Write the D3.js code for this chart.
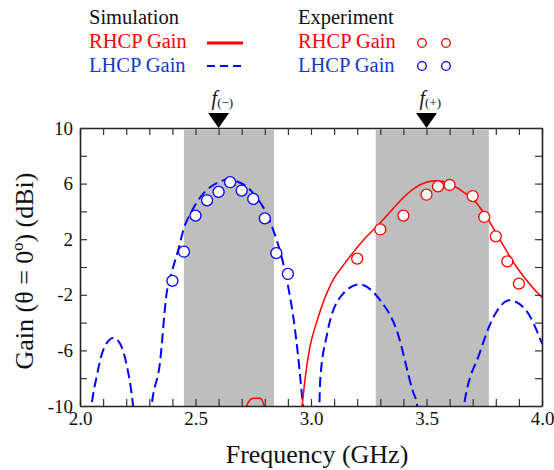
<!DOCTYPE html>
<html lang="en">
<head>
<meta charset="UTF-8">
<script src="https://d3js.org/d3.v7.min.js"></script>
<style>
  body { margin: 0; background: #fff; }
  svg, svg text, svg tspan { font-family: 'Liberation Serif', 'Times New Roman', serif !important; }
</style>
</head>
<body>
<div id="chart"></div>
<script>
const width = 554;
const height = 470;
const margin = { left: 80, right: 12, top: 128, bottom: 64 };

// shaded bands (GHz)
const bands = [[2.45, 2.84], [3.28, 3.77]];
// marker frequencies
const markers = [{ f: 2.6, sub: "(\u2212)" }, { f: 3.5, sub: "(+)" }];

// experiment
const lhcpExpFreq = [2.40, 2.45, 2.50, 2.55, 2.60, 2.65, 2.70, 2.75, 2.80, 2.85, 2.90];
const lhcpExpGain = [-1.0, 1.1, 3.7, 4.8, 5.4, 6.1, 5.5, 4.9, 3.5, 1.0, -0.5];
const rhcpExpFreq = [3.20, 3.30, 3.40, 3.50, 3.55, 3.60, 3.70, 3.75, 3.80, 3.85, 3.90];
const rhcpExpGain = [0.6, 2.7, 3.7, 5.2, 5.8, 5.9, 5.1, 3.6, 2.2, 0.4, -1.2];

// simulation, one array per lobe: [freq, gain]
const lhcpSim = [
  [[2.045, -10.8], [2.05, -10], [2.072, -7.9], [2.10, -6.0], [2.144, -5.1], [2.173, -5.5], [2.20, -6.9], [2.23, -10], [2.235, -10.8]],
  [[2.305, -10.8], [2.31, -10], [2.346, -6.9], [2.375, -1.9], [2.40, -0.2], [2.425, 1.2], [2.45, 2.8], [2.48, 3.9],
   [2.52, 5.0], [2.56, 5.7], [2.60, 6.1], [2.64, 6.3], [2.68, 6.15], [2.72, 5.8], [2.76, 5.1], [2.80, 4.1],
   [2.84, 2.5], [2.87, 0.9], [2.90, -1.3], [2.93, -4.4], [2.955, -8.2], [2.965, -10], [2.97, -10.8]],
  [[3.03, -10.8], [3.036, -10], [3.04, -8.1], [3.07, -4.8], [3.13, -2.1], [3.21, -1.25], [3.30, -2.4], [3.37, -4.5], [3.44, -8.9], [3.46, -10], [3.465, -10.8]],
  [[3.655, -10.8], [3.662, -10], [3.73, -6.2], [3.79, -3.6], [3.86, -2.4], [3.93, -3.1], [4.0, -5.5]]
];
const rhcpSim = [
  [[2.715, -10.8], [2.721, -10], [2.75, -9.45], [2.779, -9.45], [2.797, -10], [2.803, -10.8]],
  [[2.958, -10.8], [2.962, -10], [2.974, -8.1], [2.996, -5.7], [3.024, -4.0], [3.068, -1.9], [3.10, -0.8],
   [3.13, -0.1], [3.18, 1.0], [3.23, 2.0], [3.29, 3.0], [3.35, 4.1], [3.40, 5.0], [3.45, 5.7], [3.50, 6.1],
   [3.545, 6.2], [3.60, 6.0], [3.65, 5.5], [3.70, 4.9], [3.76, 3.6], [3.82, 1.9], [3.89, 0.0], [3.95, -1.3], [4.0, -2.2]]
];

const red = "#ff0000";
const blue = "#0000ff";
const blueText = "#1238d0";

const svg = d3.select("#chart").append("svg")
  .attr("width", width).attr("height", height);

const x = d3.scaleLinear().domain([2.0, 4.0]).range([margin.left, width - margin.right]);
const y = d3.scaleLinear().domain([-10, 10]).range([height - margin.bottom, margin.top]);

svg.append("clipPath").attr("id", "clip")
  .append("rect")
  .attr("x", x(2.0)).attr("y", y(10))
  .attr("width", x(4.0) - x(2.0)).attr("height", y(-10) - y(10));

// bands
svg.selectAll("rect.band").data(bands).enter().append("rect")
  .attr("class", "band")
  .attr("x", d => x(d[0]))
  .attr("width", d => x(d[1]) - x(d[0]))
  .attr("y", y(10) + 2)
  .attr("height", y(-10) - y(10) - 2)
  .attr("fill", "#bebebe");

const plot = svg.append("g").attr("clip-path", "url(#clip)");

const line = d3.line()
  .x(d => x(d[0]))
  .y(d => y(d[1]))
  .curve(d3.curveMonotoneX);

plot.selectAll("path.lhcp").data(lhcpSim).enter().append("path")
  .attr("class", "lhcp")
  .attr("d", line)
  .attr("fill", "none")
  .attr("stroke", blue)
  .attr("stroke-width", 2)
  .attr("stroke-dasharray", "10,5");

plot.selectAll("path.rhcp").data(rhcpSim).enter().append("path")
  .attr("class", "rhcp")
  .attr("d", line)
  .attr("fill", "none")
  .attr("stroke", red)
  .attr("stroke-width", 1.5);

plot.selectAll("circle.lexp").data(lhcpExpFreq).enter().append("circle")
  .attr("class", "lexp")
  .attr("cx", d => x(d))
  .attr("cy", (d, i) => y(lhcpExpGain[i]))
  .attr("r", 5.5)
  .attr("fill", "#fff")
  .attr("stroke", blue)
  .attr("stroke-width", 1.3);

plot.selectAll("circle.rexp").data(rhcpExpFreq).enter().append("circle")
  .attr("class", "rexp")
  .attr("cx", d => x(d))
  .attr("cy", (d, i) => y(rhcpExpGain[i]))
  .attr("r", 5.5)
  .attr("fill", "#fff")
  .attr("stroke", red)
  .attr("stroke-width", 1.3);

// axes
const xTicks = d3.range(20, 41).map(d => d / 10);
const yTicks = d3.range(-10, 11, 2);
const xFmt = d => (Math.round(d * 10) % 5 === 0 ? d.toFixed(1) : "");
const yFmt = d => ((d + 10) % 4 === 0 ? d : "");

function styleAxis(g) {
  g.attr("font-size", 19);
  g.select(".domain").attr("stroke", "#222").attr("stroke-width", 1.6);
  g.selectAll(".tick line").attr("stroke", "#333").attr("stroke-width", 1.2);
  g.selectAll(".tick text").attr("fill", "#111");
}

svg.append("g").attr("transform", `translate(0,${y(-10)})`)
  .call(d3.axisBottom(x).tickValues(xTicks).tickFormat(xFmt).tickSizeInner(-7).tickSizeOuter(0).tickPadding(6))
  .call(styleAxis);
svg.append("g").attr("transform", `translate(0,${y(10)})`)
  .call(d3.axisTop(x).tickValues(xTicks).tickFormat("").tickSizeInner(-7).tickSizeOuter(0))
  .call(styleAxis);
svg.append("g").attr("transform", `translate(${x(2.0)},0)`)
  .call(d3.axisLeft(y).tickValues(yTicks).tickFormat(yFmt).tickSizeInner(-7).tickSizeOuter(0).tickPadding(7))
  .call(styleAxis);
svg.append("g").attr("transform", `translate(${x(4.0)},0)`)
  .call(d3.axisRight(y).tickValues(yTicks).tickFormat("").tickSizeInner(-7).tickSizeOuter(0))
  .call(styleAxis);

// axis titles
svg.append("text")
  .attr("x", (x(2.0) + x(4.0)) / 2 + 6)
  .attr("y", 463)
  .attr("text-anchor", "middle")
  .attr("font-size", 26)
  .attr("fill", "#111")
  .text("Frequency (GHz)");

svg.append("text")
  .attr("transform", `translate(33,271) rotate(-90)`)
  .attr("text-anchor", "middle")
  .attr("font-size", 26)
  .attr("fill", "#111")
  .text("Gain (\u03b8 = 0\u00ba) (dBi)");

// f markers
const mk = svg.selectAll("g.marker").data(markers).enter().append("g").attr("class", "marker");
mk.append("path")
  .attr("d", d => `M${x(d.f) - 10.5},${y(10) - 15}L${x(d.f) + 10.5},${y(10) - 15}L${x(d.f)},${y(10)}Z`)
  .attr("fill", "#000");
const mt = mk.append("text")
  .attr("x", d => x(d.f) - 7)
  .attr("y", 105)
  .attr("fill", "#111");
mt.append("tspan").attr("font-size", 20).attr("font-style", "italic").text("f");
mt.append("tspan").attr("font-size", 13).attr("dy", 2).text(d => d.sub);

// legend
const lg = svg.append("g");
const legRows = [
  { x: 89, y: 24, text: "Simulation", color: "#111" },
  { x: 89, y: 48, text: "RHCP Gain", color: red },
  { x: 89, y: 72, text: "LHCP Gain", color: blueText },
  { x: 298, y: 24, text: "Experiment", color: "#111" },
  { x: 298, y: 48, text: "RHCP Gain", color: red },
  { x: 298, y: 72, text: "LHCP Gain", color: blueText }
];
lg.selectAll("text").data(legRows).enter().append("text")
  .attr("x", d => d.x).attr("y", d => d.y)
  .attr("font-size", 20.5)
  .attr("fill", d => d.color)
  .text(d => d.text);

lg.append("line").attr("x1", 207).attr("x2", 243).attr("y1", 43).attr("y2", 43)
  .attr("stroke", red).attr("stroke-width", 3);
lg.append("line").attr("x1", 207).attr("x2", 243).attr("y1", 66).attr("y2", 66)
  .attr("stroke", blue).attr("stroke-width", 2.2).attr("stroke-dasharray", "8,5");

const legCircles = [
  { cx: 422, cy: 43, color: red }, { cx: 446, cy: 43, color: red },
  { cx: 422, cy: 66, color: blue }, { cx: 446, cy: 66, color: blue }
];
lg.selectAll("circle").data(legCircles).enter().append("circle")
  .attr("cx", d => d.cx).attr("cy", d => d.cy).attr("r", 4.3)
  .attr("fill", "#fff").attr("stroke", d => d.color).attr("stroke-width", 1.3);
</script>
</body>
</html>
